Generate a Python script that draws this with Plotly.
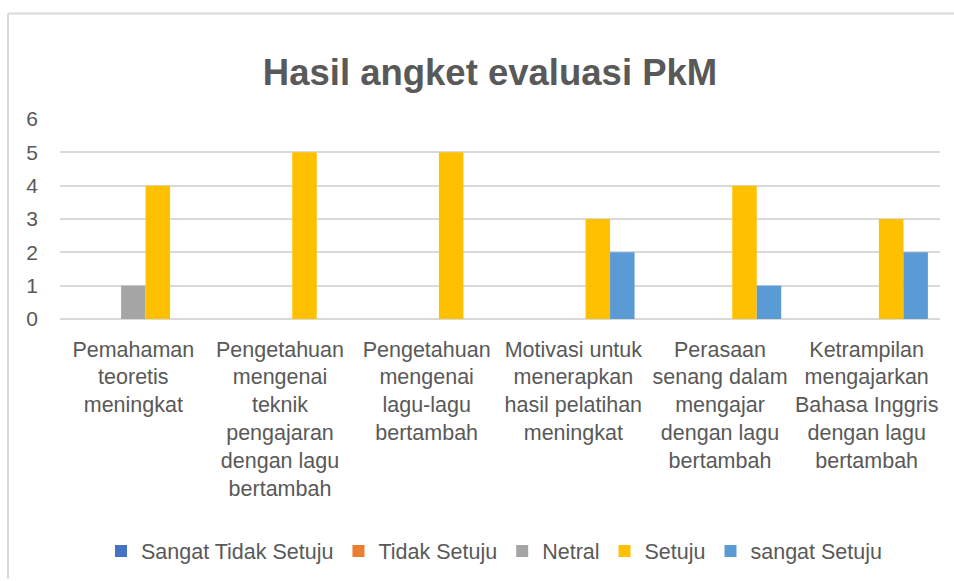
import plotly.graph_objects as go

categories = [
    "Pemahaman<br>teoretis<br>meningkat",
    "Pengetahuan<br>mengenai<br>teknik<br>pengajaran<br>dengan lagu<br>bertambah",
    "Pengetahuan<br>mengenai<br>lagu-lagu<br>bertambah",
    "Motivasi untuk<br>menerapkan<br>hasil pelatihan<br>meningkat",
    "Perasaan<br>senang dalam<br>mengajar<br>dengan lagu<br>bertambah",
    "Ketrampilan<br>mengajarkan<br>Bahasa Inggris<br>dengan lagu<br>bertambah",
]
series_names = ["Sangat Tidak Setuju", "Tidak Setuju", "Netral", "Setuju", "sangat Setuju"]
sangat_tidak_setuju = [0, 0, 0, 0, 0, 0]
tidak_setuju = [0, 0, 0, 0, 0, 0]
netral = [1, 0, 0, 0, 0, 0]
setuju = [4, 5, 5, 3, 4, 3]
sangat_setuju = [0, 0, 0, 2, 1, 2]
y_ticks = [0, 1, 2, 3, 4, 5, 6]

values = [sangat_tidak_setuju, tidak_setuju, netral, setuju, sangat_setuju]
colors = ["#4472C4", "#ED7D31", "#A5A5A5", "#FFC000", "#5B9BD5"]

FONT = "Liberation Sans, Arial, sans-serif"
TXT = "#595959"

fig = go.Figure()
for name, vals, col in zip(series_names, values, colors):
    fig.add_trace(go.Bar(
        name=name, x=categories, y=vals,
        marker=dict(color=col, line=dict(width=0)),
    ))

W, H = 954, 581
L, R, T, B = 60, 14, 119, 261
pw = W - L - R
ph = H - T - B

def px2x(px):
    return (px - L) / pw

def py2y(py):
    return (H - B - py) / ph

fig.update_layout(
    width=W, height=H,
    margin=dict(l=L, r=R, t=T, b=B),
    paper_bgcolor="white", plot_bgcolor="white",
    barmode="group", bargap=0.165, bargroupgap=0,
    font=dict(family=FONT, color=TXT, size=21),
    title=dict(
        text="<b>Hasil angket evaluasi PkM</b>",
        x=490 / W, xanchor="center", xref="container",
        y=1 - 72 / H, yanchor="middle", yref="container",
        font=dict(family=FONT, size=36.5, color=TXT),
    ),
    showlegend=True,
    legend=dict(
        orientation="h", x=px2x(494), xanchor="center",
        y=py2y(551), yanchor="middle",
        font=dict(family=FONT, size=21.5, color=TXT),
        traceorder="normal", itemsizing="constant",
    ),
    xaxis=dict(
        showgrid=False, showline=False, ticks="",
        tickfont=dict(family=FONT, size=21.5, color=TXT),
        ticklabelstandoff=15,
    ),
    yaxis=dict(
        range=[0, 6], tickvals=y_ticks, showgrid=True,
        gridcolor="#D9D9D9", gridwidth=1.5,
        zeroline=True, zerolinecolor="#D9D9D9", zerolinewidth=1.5,
        showline=False, ticks="",
        tickfont=dict(family=FONT, size=21, color=TXT),
        ticklabelstandoff=21,
    ),
    shapes=[
        dict(type="line", xref="paper", yref="paper",
             x0=px2x(8), x1=px2x(954), y0=py2y(13), y1=py2y(13),
             line=dict(color="#D9D9D9", width=2)),
        dict(type="line", xref="paper", yref="paper",
             x0=px2x(8), x1=px2x(8), y0=py2y(13), y1=py2y(581),
             line=dict(color="#D9D9D9", width=2)),
    ],
)

fig.write_html(
    "out.html",
    config={"displayModeBar": False},
    post_script="document.body.style.margin='0';document.body.style.overflow='hidden';",
)
